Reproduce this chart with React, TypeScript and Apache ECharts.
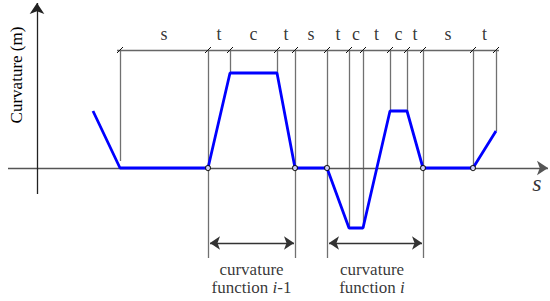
import React, { useEffect, useRef } from "react";
import * as echarts from "echarts";

// Boundaries of curve segments along s (chart units = px-like scale)
const boundaries = [120, 208, 230, 277, 295, 327, 349, 363, 390, 407, 423, 473, 496];
// lower end of each boundary's extension line (curvature units)
const lineEnds = [7, -90, 95, 95, -90, -90, -60, -60, 57, 57, -90, 0, 37];
const segmentLabels = ["s", "t", "c", "t", "s", "t", "c", "t", "c", "t", "s", "t"];
// curvature profile
const curveS = [93, 120, 208, 230, 277, 295, 327, 349, 363, 390, 407, 423, 473, 496];
const curveK = [57, 0, 0, 95, 95, 0, 0, -60, -60, 57, 57, 0, 0, 37];
// knot points between functions
const knotS = [208, 295, 327, 423, 473];
// curvature function spans
const functionStarts = [208, 327];
const functionEnds = [295, 423];
const functionNames = ["i-1", "i"];

const DIM_Y = 118;
const ARROW_Y = -75;
const FONT = "'Liberation Serif', 'Times New Roman', serif";

export default function App() {
  const ref = useRef<HTMLDivElement>(null);
  useEffect(() => {
    document.body.style.margin = "0";
    const chart = echarts.init(ref.current!, null, { renderer: "svg" });
    const verticals = boundaries.map((b, i) => ({ coords: [[b, DIM_Y], [b, lineEnds[i]]] }));
    const slashes = boundaries.map((b) => ({ coords: [[b - 3, DIM_Y - 3], [b + 3, DIM_Y + 3]] }));
    const labelData = segmentLabels.map((l, i) => ({
      value: [(boundaries[i] + boundaries[i + 1]) / 2, 134],
      name: l,
    }));
    const fnArrows = functionStarts.map((s, i) => ({ coords: [[s + 2, ARROW_Y], [functionEnds[i] - 1, ARROW_Y]] }));
    const fnText1 = functionStarts.map((s, i) => ({ value: [(s + functionEnds[i]) / 2 - (i === 1 ? 3 : 0), -101], name: "curvature" }));
    const fnText2 = functionStarts.map((s, i) => ({ value: [(s + functionEnds[i]) / 2 - (i === 1 ? 3 : 0), -119], name: functionNames[i] }));

    chart.setOption({
      animation: false,
      grid: { left: 0, right: 0, top: 0, bottom: 0 },
      xAxis: { type: "value", min: 0, max: 550, show: false },
      yAxis: { type: "value", min: -133, max: 168, show: false },
      graphic: [
        {
          type: "text",
          x: 16,
          y: 75,
          rotation: Math.PI / 2,
          style: {
            text: "Curvature (m)",
            font: `17px ${FONT}`,
            fill: "#000",
            align: "center",
            verticalAlign: "middle",
          },
        },
      ],
      series: [
        {
          type: "lines",
          coordinateSystem: "cartesian2d",
          data: verticals,
          symbol: ["none", "none"],
          lineStyle: { color: "#707070", width: 1.3, opacity: 1 },
          z: 1,
        },
        {
          type: "lines",
          coordinateSystem: "cartesian2d",
          data: [{ coords: [[boundaries[0] - 3, DIM_Y], [boundaries[boundaries.length - 1] + 3, DIM_Y]] }],
          symbol: ["none", "none"],
          lineStyle: { color: "#666", width: 1.3, opacity: 1 },
          z: 2,
        },
        {
          type: "lines",
          coordinateSystem: "cartesian2d",
          data: slashes,
          symbol: ["none", "none"],
          lineStyle: { color: "#111", width: 1, opacity: 1 },
          z: 3,
        },
        {
          type: "lines",
          coordinateSystem: "cartesian2d",
          data: [{ coords: [[8, 0], [548, 0]] }],
          symbol: ["none", "arrow"],
          symbolSize: 11,
          lineStyle: { color: "#555", width: 1.4, opacity: 1 },
          z: 2,
        },
        {
          type: "lines",
          coordinateSystem: "cartesian2d",
          data: [{ coords: [[37, -26], [37, 165]] }],
          symbol: ["none", "arrow"],
          symbolSize: 11,
          lineStyle: { color: "#222", width: 1.3, opacity: 1 },
          z: 2,
        },
        {
          type: "lines",
          coordinateSystem: "cartesian2d",
          data: fnArrows,
          symbol: ["arrow", "arrow"],
          symbolSize: 10,
          lineStyle: { color: "#333", width: 1.4, opacity: 1 },
          z: 2,
        },
        {
          type: "line",
          data: curveS.map((s, i) => [s, curveK[i]]),
          showSymbol: false,
          symbol: "none",
          lineStyle: { color: "#0000ff", width: 2.8 },
          z: 5,
        },
        {
          type: "scatter",
          data: knotS.map((s) => [s, 0]),
          symbol: "circle",
          symbolSize: 5,
          itemStyle: { color: "#fff", borderColor: "#000", borderWidth: 1.2 },
          z: 6,
        },
        {
          type: "scatter",
          data: labelData,
          symbolSize: 0,
          label: {
            show: true,
            position: "inside",
            formatter: (p: any) => p.name,
            fontFamily: FONT,
            fontSize: 18,
            color: "#000",
          },
          z: 6,
        },
        {
          type: "scatter",
          data: fnText1,
          symbolSize: 0,
          label: {
            show: true,
            position: "inside",
            formatter: (p: any) => p.name,
            fontFamily: FONT,
            fontSize: 17,
            color: "#000",
          },
          z: 6,
        },
        {
          type: "scatter",
          data: fnText2,
          symbolSize: 0,
          label: {
            show: true,
            position: "inside",
            formatter: (p: any) => {
              const n: string = p.name;
              const ital = n.charAt(0);
              const rest = n.slice(1);
              return `{n|function }{i|${ital}}` + (rest ? `{n|${rest}}` : "");
            },
            rich: {
              n: { fontFamily: FONT, fontSize: 17, color: "#000" },
              i: { fontFamily: FONT, fontSize: 17, fontStyle: "italic", color: "#000" },
            },
          },
          z: 6,
        },
        {
          type: "scatter",
          data: [{ value: [537, -15], name: "s" }],
          symbolSize: 0,
          label: {
            show: true,
            position: "inside",
            formatter: (p: any) => p.name,
            fontFamily: FONT,
            fontSize: 24,
            fontStyle: "italic",
            color: "#000",
          },
          z: 6,
        },
      ],
    });
    return () => chart.dispose();
  }, []);
  return <div ref={ref} style={{ width: 550, height: 301 }} />;
}
